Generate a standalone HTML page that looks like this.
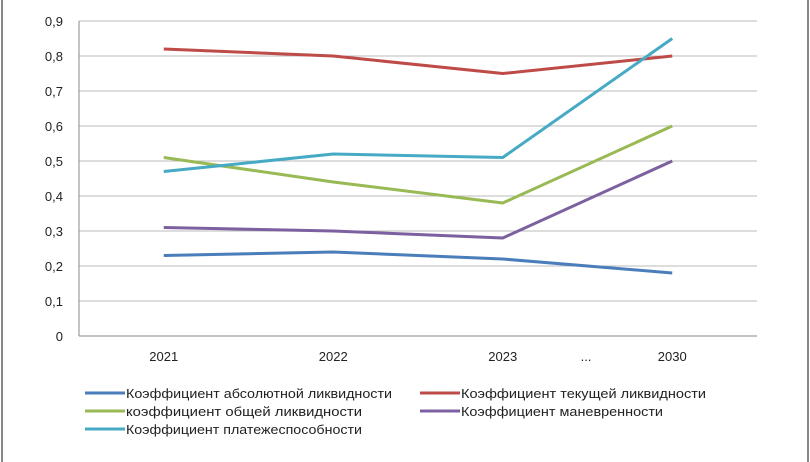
<!DOCTYPE html>
<html><head><meta charset="utf-8"><style>
html,body{margin:0;padding:0;background:#fff;}
svg{display:block;font-family:"Liberation Sans",sans-serif;}
</style></head><body>
<svg id="chart" width="810" height="462">
<line x1="2" y1="0" x2="2" y2="462" stroke="#888" stroke-width="2"/>
<line x1="808" y1="0" x2="808" y2="462" stroke="#888" stroke-width="2"/>
<g id="grid"></g><g id="axes"></g><g id="series"></g><g id="legend"></g>
</svg>
<script>
const categories=["2021","2022","2023","2030"];
const yTicks=["0","0,1","0,2","0,3","0,4","0,5","0,6","0,7","0,8","0,9"];
const absLiq=[0.23,0.24,0.22,0.18];
const curLiq=[0.82,0.80,0.75,0.80];
const genLiq=[0.51,0.44,0.38,0.60];
const maneuv=[0.31,0.30,0.28,0.50];
const solv=[0.47,0.52,0.51,0.85];
const seriesNames=["Коэффициент абсолютной ликвидности","Коэффициент текущей ликвидности","коэффициент общей ликвидности","Коэффициент маневренности","Коэффициент платежеспособности"];
const seriesVals=[absLiq,curLiq,genLiq,maneuv,solv];
const colors=["#4a7ebb","#be4b48","#98b954","#7d60a0","#46aac5"];
const ns="http://www.w3.org/2000/svg";
const L=79,R=757,T=21,B=336;
function y(v){return B-(v/0.9)*(B-T);}
function x(i){return L+(R-L)/categories.length*(i+0.5);}
function mk(tag,attrs,parent,text){const e=document.createElementNS(ns,tag);for(const k in attrs)e.setAttribute(k,attrs[k]);if(text!==undefined)e.textContent=text;document.getElementById(parent).appendChild(e);return e;}
yTicks.forEach((t,i)=>{const v=i*0.1;
 const g=mk('line',{x1:L,x2:R,y1:y(v),y2:y(v),stroke:i==0?'#888':'#bbb','stroke-width':1},'grid');
 
 
 const tx=mk('text',{x:L-16,y:y(v)+5,'text-anchor':'end','font-size':13,fill:'#222'},'axes',t);
 
 
});
const ax=mk('line',{x1:L,x2:L,y1:T,y2:B,stroke:'#888'},'axes');


categories.forEach((c,i)=>{const t=mk('text',{x:x(i),y:361,'text-anchor':'middle','font-size':13,fill:'#222'},'axes',c);
 
 });
const dots=mk('text',{x:586,y:361,'text-anchor':'middle','font-size':13,fill:'#222'},'axes','...');


seriesVals.forEach((vals,s)=>{
 const p=mk('polyline',{points:vals.map((v,i)=>x(i)+','+y(v)).join(' '),fill:'none',stroke:colors[s],'stroke-width':3,'stroke-linejoin':'round'},'series');
 
 
});
const legPos=[[85,393],[420,393],[85,411],[420,411],[85,429]];
const legW=[266,245,236,202,236];
seriesNames.forEach((n,s)=>{const [lx,ly]=legPos[s];
 const l=mk('line',{x1:lx,x2:lx+40,y1:ly,y2:ly,stroke:colors[s],'stroke-width':3},'legend');
 
 
 const t=mk('text',{x:lx+41,y:ly+5,'font-size':13,fill:'#222',textLength:legW[s],lengthAdjust:'spacingAndGlyphs'},'legend',n);
 
 
});
</script>
</body></html>
